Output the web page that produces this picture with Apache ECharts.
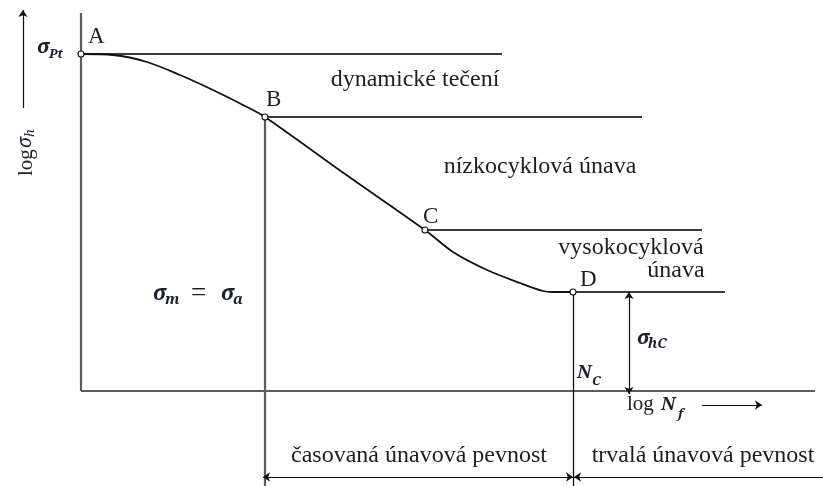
<!DOCTYPE html>
<html>
<head>
<meta charset="utf-8">
<script src="https://cdn.jsdelivr.net/npm/echarts@6/dist/echarts.min.js"></script>
<style>
  html, body { margin: 0; padding: 0; background: #fff; }
  #main { width: 823px; height: 486px; }
</style>
</head>
<body>
<div id="main"></div>
<script>
// schematic units: logN to the right, log sigma upwards, origin = axis crossing
var pointNames = ['A', 'B', 'C', 'D'];
var pointN = [0, 184, 344, 492];
var pointS = [337, 274, 161, 99];

// Woehler curve A -> B -> C -> D
var curveN = [0, 32, 66, 99, 132, 166, 184, 264, 344, 372, 406, 439, 462, 472, 492];
var curveS = [337, 336, 329, 316, 301, 284, 274, 217, 161, 139, 121, 108, 100, 99, 99];

// where each regime boundary line ends (logN)
var boundaryEnd = [421, 561, 621, 644];

var axisLenN = 734;
var axisLenS = 378;
var sigmaHCAt = 548;   // logN of the sigma_hC dimension
var spanLevel = -86;   // level of the bottom span arrows

var regionLabels = ['dynamické tečení', 'nízkocyklová únava', 'vysokocyklová', 'únava'];
var bottomLabels = ['časovaná únavová pevnost', 'trvalá únavová pevnost'];

var minN = -81, maxN = 742, minS = -95, maxS = 391;

var TEXT_FONT = 'Liberation Serif';
var MATH_FONT = 'Noto Serif';
var INK = '#1e1e1e';
var MATH = '#1b2030';

var myChart = echarts.init(document.getElementById('main'));

var curveData = curveN.map(function (n, i) { return [n, curveS[i]]; });

// regime boundary lines from A, B, C, D
var boundaryLines = [];
for (var i = 0; i < pointN.length; i++) {
    boundaryLines.push({ coords: [[pointN[i], pointS[i]], [boundaryEnd[i], pointS[i]]] });
}

function seg(a, b) { return { coords: [a, b] }; }

function txt(x, y, text, size, o) {
    o = o || {};
    return {
        type: 'text',
        x: x, y: y,
        rotation: o.rotation || 0,
        z: 10,
        style: {
            text: text,
            fontFamily: o.math ? MATH_FONT : TEXT_FONT,
            fontSize: size,
            fontStyle: o.italic ? 'italic' : 'normal',
            fontWeight: o.bold ? 'bold' : 'normal',
            fill: o.color || INK,
            textAlign: o.align || 'left',
            align: o.align || 'left',
            textVerticalAlign: 'middle',
            verticalAlign: 'middle'
        }
    };
}

var M = { math: true, italic: true, bold: true, color: MATH };   // math symbols
var C = { align: 'center' };

var graphic = [
    // point letters
    txt(88, 37, pointNames[0], 23),
    txt(266, 100, pointNames[1], 23),
    txt(423, 217, pointNames[2], 23),
    txt(580, 280, pointNames[3], 23),
    // regimes
    txt(415, 80, regionLabels[0], 24, C),
    txt(540, 167, regionLabels[1], 24, C),
    txt(631, 248, regionLabels[2], 24, C),
    txt(676, 271, regionLabels[3], 24, C),
    // bottom spans
    txt(419, 456, bottomLabels[0], 24, C),
    txt(703, 456, bottomLabels[1], 24, C),
    // sigma_Pt
    txt(37, 47, 'σ', 20, M),
    txt(49, 54, 'Pt', 13, M),
    // sigma_m = sigma_a
    txt(153, 294, 'σ', 21, M),
    txt(165, 300, 'm', 15, M),
    txt(191, 294, '=', 27, { color: MATH }),
    txt(221, 294, 'σ', 21, M),
    txt(233, 300, 'a', 15, M),
    // sigma_hC
    txt(637, 338, 'σ', 20, M),
    txt(648, 344, 'hC', 14, M),
    // N_C
    txt(577, 373, 'N', 18, M),
    txt(592, 381, 'C', 13, M),
    // log N_f
    txt(627, 404, 'log', 21),
    txt(661, 405, 'N', 18, M),
    txt(678, 414, 'f', 13, M),
    // log sigma_h, rotated
    txt(26, 176, 'log', 21, { rotation: Math.PI / 2 }),
    txt(26, 148, 'σ', 19, { rotation: Math.PI / 2, math: true, italic: true, color: MATH }),
    txt(30, 137, 'h', 13, { rotation: Math.PI / 2, math: true, italic: true, color: MATH })
];

var option = {
    animation: false,
    grid: { left: 0, right: 0, top: 0, bottom: 0 },
    xAxis: { type: 'value', min: minN, max: maxN, show: false },
    yAxis: { type: 'value', min: minS, max: maxS, show: false },
    graphic: graphic,
    series: [
        {
            // axes and the B vertical
            type: 'lines',
            coordinateSystem: 'cartesian2d',
            symbol: ['none', 'none'],
            lineStyle: { color: '#5c5c5c', width: 2.2, opacity: 1 },
            data: [
                seg([0, 0], [0, axisLenS]),
                seg([0, 0], [axisLenN, 0]),
                seg([pointN[1], pointS[1]], [pointN[1], minS])
            ]
        },
        {
            type: 'lines',
            coordinateSystem: 'cartesian2d',
            symbol: ['none', 'none'],
            lineStyle: { color: '#3a3a3a', width: 1.8, opacity: 1 },
            data: boundaryLines
        },
        {
            // D vertical
            type: 'lines',
            coordinateSystem: 'cartesian2d',
            symbol: ['none', 'none'],
            lineStyle: { color: '#111', width: 1.3, opacity: 1 },
            data: [seg([pointN[3], pointS[3]], [pointN[3], minS])]
        },
        {
            // double arrows
            type: 'lines',
            coordinateSystem: 'cartesian2d',
            symbol: ['arrow', 'arrow'],
            symbolSize: 7,
            lineStyle: { color: '#111', width: 1.2, opacity: 1 },
            data: [
                seg([sigmaHCAt, pointS[3]], [sigmaHCAt, -3]),
                seg([pointN[1] - 2, spanLevel], [pointN[3], spanLevel])
            ]
        },
        {
            // single arrows
            type: 'lines',
            coordinateSystem: 'cartesian2d',
            symbol: ['none', 'arrow'],
            symbolSize: 7,
            lineStyle: { color: '#111', width: 1.2, opacity: 1 },
            data: [
                seg([maxN, spanLevel], [pointN[3] + 1, spanLevel]),
                seg([621, -14], [681, -14]),
                seg([-58, 283], [-58, 381])
            ]
        },
        {
            type: 'line',
            data: curveData,
            smooth: 0.3,
            showSymbol: false,
            symbol: 'none',
            lineStyle: { color: '#111', width: 1.8 },
            z: 3
        },
        {
            type: 'scatter',
            data: pointN.map(function (n, i) { return [n, pointS[i]]; }),
            symbol: 'circle',
            symbolSize: 6,
            itemStyle: { color: '#fff', borderColor: '#111', borderWidth: 1.1, opacity: 1 },
            z: 5
        }
    ]
};

myChart.setOption(option);
</script>
</body>
</html>
